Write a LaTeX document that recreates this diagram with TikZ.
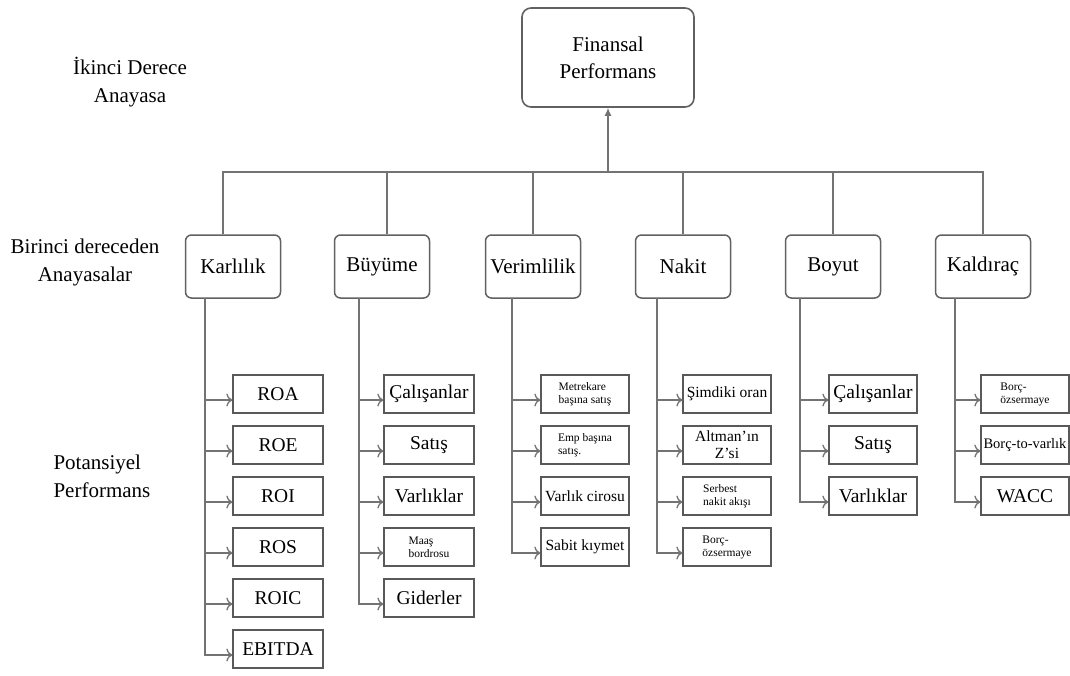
\documentclass[tikz,border=0pt]{standalone}
\usepackage{fontspec}
\setmainfont{Liberation Serif}
\usetikzlibrary{arrows.meta}

\tikzset{
  topbox/.style={draw=black!62, line width=1.6pt, rounded corners=9pt, minimum width=172pt, minimum height=99pt, align=center, font=\fontsize{21}{27}\selectfont},
  firstbox/.style={draw=black!62, line width=1.5pt, rounded corners=6pt, minimum width=95pt, minimum height=63pt, font=\fontsize{21}{25}\selectfont},
  measure/.style={draw=black!65, line width=1.3pt, minimum width=88pt, minimum height=38pt, inner sep=1pt, font=\fontsize{19.5}{21}\selectfont},
  midtext/.style={measure, align=center, font=\fontsize{15.5}{17}\selectfont},
  smalltext/.style={measure, align=left, font=\fontsize{11.5}{13}\selectfont},
  sidetext/.style={align=center, font=\fontsize{21}{28}\selectfont},
  link/.style={draw=black!55, line width=1.3pt},
  feed/.style={link, -{To[length=6pt,width=13pt]}},
}

\begin{document}
\begin{tikzpicture}[x=1pt,y=-1pt]
\useasboundingbox (0,0) rectangle (1070,675);

% ust seviye
\node[topbox] (finans) at (608,57.5) {Finansal\\Performans};

% sol etiketler
\node[sidetext] (ikinci) at (130,82) {İkinci Derece\\Anayasa};
\node[sidetext] (birinci) at (85,262) {Birinci dereceden\\Anayasalar};
\node[sidetext, align=left, anchor=west] (potansiyel) at (50,476) {Potansiyel\\Performans};

% birinci derece
\node[firstbox] (karlilik) at (233,266.5) {Karlılık};
\node[firstbox] (buyume) at (382,266.5) {Büyüme};
\node[firstbox] (verim) at (533,266.5) {Verimlilik};
\node[firstbox] (nakit) at (683,266.5) {Nakit};
\node[firstbox] (boyut) at (833,266.5) {Boyut};
\node[firstbox] (kaldirac) at (983,266.5) {Kaldıraç};

\coordinate (bus) at (608,172);
\draw[link] ([xshift=-10pt]karlilik.north) -- ([xshift=-10pt]karlilik.north |- bus) -- (kaldirac.north |- bus) -- (kaldirac.north);
\draw[link] ([xshift=5pt]buyume.north) -- ([xshift=5pt]buyume.north |- bus);
\draw[link] (verim.north) -- (verim.north |- bus);
\draw[link] (nakit.north) -- (nakit.north |- bus);
\draw[link] (boyut.north) -- (boyut.north |- bus);
\draw[link, -{Latex[length=8pt,width=7pt]}] (bus) -- (finans.south);

% potansiyel olculer
\node[measure, minimum width=90pt] (roa) at (278,394) {ROA};
\node[measure, minimum width=90pt] (roe) at (278,445) {ROE};
\node[measure, minimum width=90pt] (roi) at (278,496) {ROI};
\node[measure, minimum width=90pt] (ros) at (278,547) {ROS};
\node[measure, minimum width=90pt] (roic) at (278,598) {ROIC};
\node[measure, minimum width=90pt] (ebitda) at (278,649) {EBITDA};

\node[measure, minimum width=90pt] (calisan) at (429,394) {Çalışanlar};
\node[measure, minimum width=90pt] (satis) at (429,445) {Satış};
\node[measure, minimum width=90pt] (varlik) at (429,496) {Varlıklar};
\node[smalltext, minimum width=90pt] (maas) at (429,547) {Maaş\\bordrosu};
\node[measure, minimum width=90pt] (gider) at (429,598) {Giderler};

\node[smalltext] (metrekare) at (585,394) {Metrekare\\başına satış};
\node[smalltext] (emp) at (585,445) {Emp başına\\satış.};
\node[midtext] (ciro) at (585,496) {Varlık cirosu};
\node[midtext] (sabit) at (585,547) {Sabit kıymet};

\node[midtext] (simdiki) at (727,394) {Şimdiki oran};
\node[midtext] (altman) at (727,445) {Altman'ın\\Z'si};
\node[smalltext] (serbest) at (727,496) {Serbest\\nakit akışı};
\node[smalltext] (borcoz) at (727,547) {Borç-\\özsermaye};

\node[measure] (calisanb) at (873,394) {Çalışanlar};
\node[measure] (satisb) at (873,445) {Satış};
\node[measure] (varlikb) at (873,496) {Varlıklar};

\node[smalltext] (borcozk) at (1025,394) {Borç-\\özsermaye};
\node[midtext, font=\fontsize{14.5}{16}\selectfont] (borcvar) at (1025,445) {Borç-to-varlık};
\node[measure] (wacc) at (1025,496) {WACC};

% dikey hatlar
\coordinate (kstem) at (205,298);
\coordinate (bstem) at (359,298);
\coordinate (vstem) at (512,298);
\coordinate (nstem) at (657,298);
\coordinate (ystem) at (800,298);
\coordinate (dstem) at (955,298);

\draw[feed] (kstem) |- ([yshift=-6pt]roa.west);
\draw[feed] (kstem) |- ([yshift=-6pt]roe.west);
\draw[feed] (kstem) |- ([yshift=-6pt]roi.west);
\draw[feed] (kstem) |- ([yshift=-6pt]ros.west);
\draw[feed] (kstem) |- ([yshift=-6pt]roic.west);
\draw[feed] (kstem) |- ([yshift=-6pt]ebitda.west);

\draw[feed] (bstem) |- ([yshift=-6pt]calisan.west);
\draw[feed] (bstem) |- ([yshift=-6pt]satis.west);
\draw[feed] (bstem) |- ([yshift=-6pt]varlik.west);
\draw[feed] (bstem) |- ([yshift=-6pt]maas.west);
\draw[feed] (bstem) |- ([yshift=-6pt]gider.west);

\draw[feed] (vstem) |- ([yshift=-6pt]metrekare.west);
\draw[feed] (vstem) |- ([yshift=-6pt]emp.west);
\draw[feed] (vstem) |- ([yshift=-6pt]ciro.west);
\draw[feed] (vstem) |- ([yshift=-6pt]sabit.west);

\draw[feed] (nstem) |- ([yshift=-6pt]simdiki.west);
\draw[feed] (nstem) |- ([yshift=-6pt]altman.west);
\draw[feed] (nstem) |- ([yshift=-6pt]serbest.west);
\draw[feed] (nstem) |- ([yshift=-6pt]borcoz.west);

\draw[feed] (ystem) |- ([yshift=-6pt]calisanb.west);
\draw[feed] (ystem) |- ([yshift=-6pt]satisb.west);
\draw[feed] (ystem) |- ([yshift=-6pt]varlikb.west);

\draw[feed] (dstem) |- ([yshift=-6pt]borcozk.west);
\draw[feed] (dstem) |- ([yshift=-6pt]borcvar.west);
\draw[feed] (dstem) |- ([yshift=-6pt]wacc.west);
\end{tikzpicture}
\end{document}
